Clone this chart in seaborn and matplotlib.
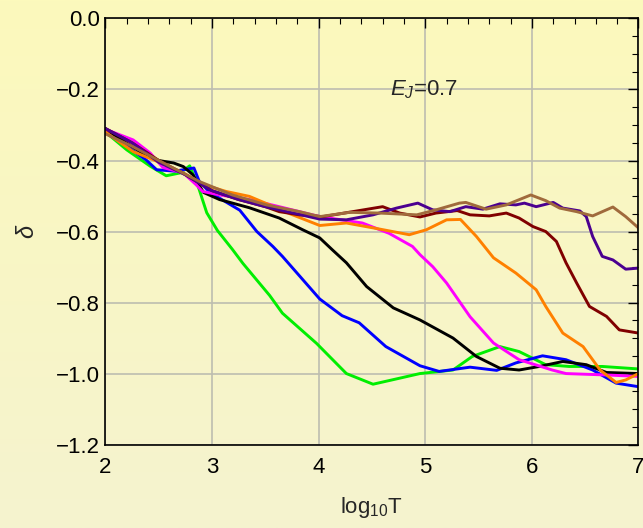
import numpy as np
import pandas as pd
import matplotlib
matplotlib.use("Agg")
import matplotlib.pyplot as plt
import seaborn as sns
from matplotlib.ticker import MultipleLocator, FuncFormatter
from matplotlib.colors import LinearSegmentedColormap

# ---- data ----
green_x = [2.0, 2.2, 2.42, 2.57, 2.70, 2.79, 2.87, 2.95, 3.05, 3.19, 3.29, 3.54, 3.66, 3.98, 4.26, 4.51, 4.76, 4.95, 5.26, 5.44, 5.70, 5.88, 6.13, 6.35, 6.66, 7.0]
green_y = [-0.32, -0.37, -0.416, -0.443, -0.435, -0.415, -0.473, -0.547, -0.597, -0.65, -0.69, -0.78, -0.83, -0.915, -1.0, -1.03, -1.013, -1.0, -0.99, -0.952, -0.924, -0.938, -0.975, -0.98, -0.98, -0.987]

blue_x = [2.0, 2.2, 2.38, 2.48, 2.65, 2.75, 2.83, 2.88, 2.98, 3.26, 3.42, 3.57, 3.66, 4.01, 4.22, 4.38, 4.63, 4.95, 5.13, 5.42, 5.67, 5.85, 6.10, 6.32, 6.57, 6.79, 7.0]
blue_y = [-0.32, -0.36, -0.398, -0.426, -0.43, -0.425, -0.421, -0.459, -0.49, -0.54, -0.60, -0.642, -0.67, -0.79, -0.837, -0.857, -0.924, -0.978, -0.994, -0.982, -0.991, -0.97, -0.95, -0.961, -0.99, -1.027, -1.037]

black_x = [2.0, 2.1, 2.35, 2.5, 2.64, 2.73, 2.82, 2.92, 3.07, 3.35, 3.63, 3.85, 4.01, 4.13, 4.26, 4.45, 4.70, 4.95, 5.26, 5.48, 5.70, 5.88, 6.07, 6.29, 6.51, 6.70, 7.0]
black_y = [-0.31, -0.332, -0.38, -0.40, -0.407, -0.417, -0.44, -0.49, -0.51, -0.533, -0.562, -0.595, -0.618, -0.652, -0.688, -0.755, -0.815, -0.849, -0.90, -0.952, -0.985, -0.99, -0.98, -0.966, -0.975, -0.997, -1.0]

magenta_x = [2.0, 2.26, 2.42, 2.54, 2.73, 2.85, 2.91, 3.07, 3.35, 3.63, 4.01, 4.41, 4.66, 4.88, 4.95, 5.07, 5.20, 5.42, 5.64, 5.88, 6.19, 6.32, 6.70, 7.0]
magenta_y = [-0.312, -0.342, -0.379, -0.42, -0.435, -0.468, -0.487, -0.497, -0.51, -0.53, -0.558, -0.576, -0.605, -0.642, -0.665, -0.699, -0.745, -0.84, -0.914, -0.961, -0.99, -1.0, -1.004, -1.008]

orange_x = [2.0, 2.26, 2.45, 2.73, 2.92, 3.13, 3.35, 3.54, 3.73, 4.01, 4.26, 4.57, 4.85, 5.01, 5.20, 5.33, 5.48, 5.64, 5.85, 6.04, 6.13, 6.29, 6.48, 6.64, 6.79, 6.88, 7.0]
orange_y = [-0.32, -0.375, -0.398, -0.435, -0.468, -0.487, -0.501, -0.525, -0.55, -0.583, -0.576, -0.593, -0.609, -0.595, -0.567, -0.566, -0.614, -0.674, -0.717, -0.764, -0.811, -0.886, -0.924, -0.99, -1.025, -1.018, -1.0]

darkred_x = [2.0, 2.25, 2.5, 2.75, 3.0, 3.25, 3.5, 3.63, 3.82, 4.04, 4.32, 4.60, 4.76, 4.95, 5.10, 5.30, 5.42, 5.60, 5.76, 5.88, 6.01, 6.13, 6.23, 6.32, 6.42, 6.54, 6.70, 6.82, 7.0]
darkred_y = [-0.31, -0.35, -0.40, -0.44, -0.485, -0.51, -0.53, -0.544, -0.553, -0.558, -0.544, -0.53, -0.548, -0.559, -0.548, -0.541, -0.553, -0.556, -0.548, -0.562, -0.586, -0.60, -0.628, -0.688, -0.745, -0.811, -0.839, -0.877, -0.886]

indigo_x = [2.0, 2.25, 2.5, 2.75, 3.0, 3.25, 3.5, 3.63, 4.01, 4.26, 4.51, 4.73, 4.93, 5.07, 5.23, 5.38, 5.54, 5.70, 5.85, 5.93, 6.04, 6.20, 6.29, 6.45, 6.51, 6.57, 6.66, 6.76, 6.88, 7.0]
indigo_y = [-0.31, -0.35, -0.405, -0.44, -0.485, -0.51, -0.53, -0.539, -0.565, -0.567, -0.553, -0.534, -0.52, -0.539, -0.544, -0.53, -0.537, -0.522, -0.525, -0.52, -0.53, -0.518, -0.534, -0.542, -0.558, -0.614, -0.67, -0.68, -0.706, -0.703]

brown_x = [2.0, 2.25, 2.5, 2.88, 3.19, 3.51, 3.82, 4.01, 4.29, 4.57, 4.92, 5.10, 5.32, 5.38, 5.57, 5.76, 5.99, 6.13, 6.26, 6.42, 6.57, 6.76, 6.88, 7.0]
brown_y = [-0.325, -0.36, -0.40, -0.459, -0.497, -0.525, -0.544, -0.558, -0.546, -0.548, -0.553, -0.539, -0.52, -0.518, -0.537, -0.525, -0.497, -0.513, -0.534, -0.544, -0.556, -0.531, -0.558, -0.59]

series = {
    "green": (green_x, green_y),
    "blue": (blue_x, blue_y),
    "black": (black_x, black_y),
    "magenta": (magenta_x, magenta_y),
    "orange": (orange_x, orange_y),
    "darkred": (darkred_x, darkred_y),
    "indigo": (indigo_x, indigo_y),
    "brown": (brown_x, brown_y),
}
colors = {
    "green": "#00EE00",
    "blue": "#0000FF",
    "black": "#000000",
    "magenta": "#FF00FF",
    "orange": "#FF8000",
    "darkred": "#800000",
    "indigo": "#4B0090",
    "brown": "#A06A3C",
}

rows = []
for name, (xs, ys) in series.items():
    for xv, yv in zip(xs, ys):
        rows.append({"series": name, "x": xv, "y": yv})
df = pd.DataFrame(rows)

sns.set_style("white")
plt.rcParams["font.family"] = ["Liberation Sans", "DejaVu Sans"]
plt.rcParams["mathtext.fontset"] = "custom"
plt.rcParams["mathtext.rm"] = "Liberation Sans"
plt.rcParams["mathtext.it"] = "Liberation Sans:italic"

fig = plt.figure(figsize=(6.43, 5.28), dpi=100)

# background gradient
bg = fig.add_axes([0, 0, 1, 1], zorder=-10)
grad = np.linspace(0, 1, 256).reshape(-1, 1)
cm = LinearSegmentedColormap.from_list("bg", ["#FCF9BC", "#F5F3CF"])
bg.imshow(grad, aspect="auto", cmap=cm, extent=[0, 1, 0, 1], origin="upper")
bg.set_axis_off()

ax = fig.add_axes([0.164, 0.158, 0.829, 0.807])
ax.set_facecolor("none")

sns.lineplot(data=df, x="x", y="y", hue="series", palette=colors, estimator=None,
             sort=True, linewidth=2.1, legend=False, ax=ax)

def yfmt(v, pos):
    if abs(v) < 1e-9:
        v = 0.0
    return f"{v:.1f}".replace("-", "\u2212")

ax.set_xlim(2, 7)
ax.set_ylim(-1.2, 0)
ax.xaxis.set_major_locator(MultipleLocator(1))
ax.xaxis.set_minor_locator(MultipleLocator(0.2))
ax.yaxis.set_major_locator(MultipleLocator(0.2))
ax.yaxis.set_minor_locator(MultipleLocator(0.05))
ax.yaxis.set_major_formatter(FuncFormatter(yfmt))
ax.xaxis.set_major_formatter(FuncFormatter(lambda v, p: f"{int(round(v))}"))
ax.tick_params(which="both", direction="in", top=True, right=True, labelsize=16, colors="black")
ax.tick_params(which="major", length=7, width=1)
ax.tick_params(which="minor", length=4, width=0.8)
ax.tick_params(axis="x", which="major", pad=9)
ax.tick_params(axis="y", which="major", pad=4)
ax.grid(True, which="major", color="#BDBDB0", linewidth=1.2)
ax.set_axisbelow(True)
for s in ax.spines.values():
    s.set_color("black")
    s.set_linewidth(1.2)

ax.set_xlabel(r"log$_{10}$T", fontsize=16, labelpad=12)
ax.set_ylabel(r"$\delta$", fontsize=17, labelpad=12)
ax.text(4.99, -0.2, r"$E_J$=0.7", fontsize=16, ha="center", va="center")

fig.savefig("out.png", dpi=100)
